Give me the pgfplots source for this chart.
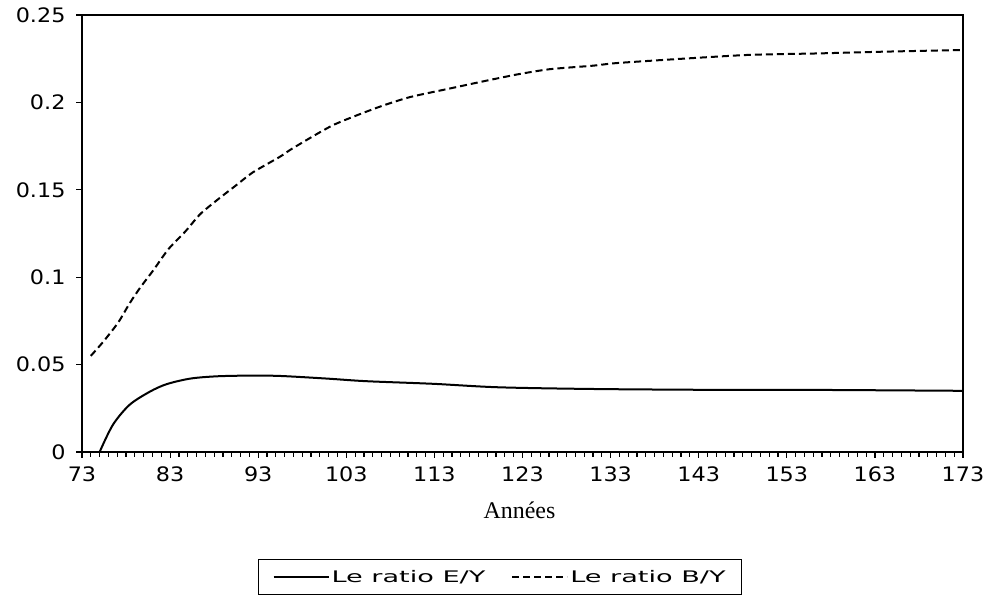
\documentclass[border=0pt]{standalone}
\usepackage{fontspec}
\setmainfont{DejaVu Sans}
\newfontfamily\tickfont[FakeStretch=1.12]{DejaVu Sans}
\newfontfamily\legfont[FakeStretch=1.7]{DejaVu Sans}
\newfontfamily\serifx{Liberation Serif}
\usepackage{pgfplots}
\pgfplotsset{compat=1.18}

\begin{document}
\begin{tikzpicture}
\useasboundingbox (0,0) rectangle (986bp,612bp);
\begin{axis}[
  at={(82bp,160bp)}, anchor=south west,
  width=881bp, height=437bp, scale only axis,
  xmin=73, xmax=173, ymin=0, ymax=0.25,
  xtick={73,83,...,173},
  minor x tick num=9,
  ytick={0,0.05,0.1,0.15,0.2,0.25},
  yticklabels={0,0.05,0.1,0.15,0.2,0.25},
  tick pos=left, tick align=outside,
  major tick length=6bp, minor tick length=5bp,
  every tick/.style={black, line width=1.2bp},
  axis line style={line width=1.5bp},
  /pgf/number format/assume math mode=true,
  ticklabel style={font=\tickfont\fontsize{20}{24}\selectfont},
  xticklabel style={yshift=-5bp},
  yticklabel style={xshift=-7bp},
  xlabel={\serifx\fontsize{24}{27}\selectfont Années},
  xlabel style={at={(axis description cs:0.4966,0)}, anchor=base, yshift=-66bp},
  legend columns=2,
  legend style={at={(0.4745,-0.286)}, anchor=center, draw=black,
    line width=1.2bp, font=\legfont\fontsize{16}{19}\selectfont,
    inner xsep=14bp, inner ysep=9bp,
    /tikz/every even column/.append style={column sep=24bp}},
  legend image code/.code={\draw[#1] (0bp,0bp) -- (55bp,0bp);},
]
\addplot[black, line width=2bp, smooth, tension=0.5] coordinates {
  (75,0) (76.5,0.0155) (78.4,0.027) (80.7,0.0345) (82.6,0.0388)
  (85.3,0.042) (88.3,0.0433) (92,0.0437) (95.5,0.0435) (100.8,0.042)
  (105.3,0.0405) (112.9,0.039) (120.4,0.037) (131.8,0.036)
  (146.9,0.0355) (156.8,0.0355) (173,0.035)
};
\addlegendentry{Le ratio E/Y}
\addplot[black, line width=2bp, dash pattern=on 7bp off 4bp, smooth, tension=0.4] coordinates {
  (74,0.055) (75.4,0.063) (77.1,0.074) (78.4,0.085) (79.6,0.094)
  (81.1,0.104) (82.8,0.116) (84.7,0.126) (86.4,0.136) (88.3,0.144)
  (90.6,0.153) (92.4,0.160) (95.5,0.169) (97,0.174) (101.5,0.187)
  (106.5,0.197) (110.2,0.203) (114.8,0.208) (118.5,0.212) (122.4,0.216)
  (126.1,0.219) (131,0.221) (133.7,0.2225) (141.2,0.225) (148.8,0.2272)
  (156.4,0.228) (163.9,0.229) (173,0.230)
};
\addlegendentry{Le ratio B/Y}
\end{axis}
\end{tikzpicture}
\end{document}
